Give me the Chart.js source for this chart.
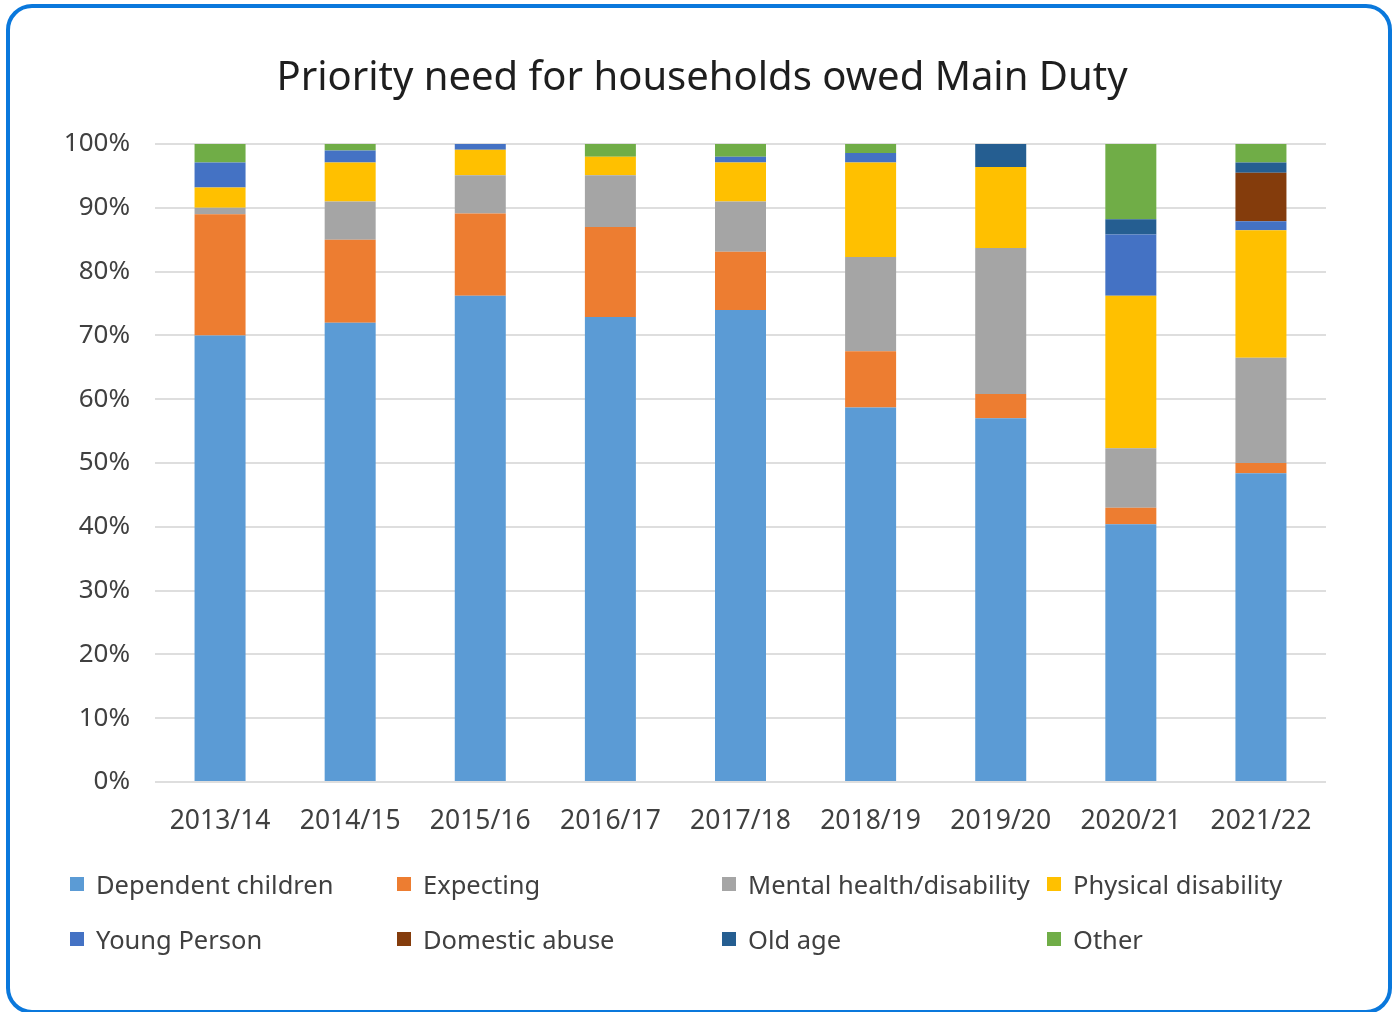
<!DOCTYPE html>
<html>
<head>
<meta charset="utf-8">
<title>Priority need for households owed Main Duty</title>
<script src="https://cdn.jsdelivr.net/npm/chart.js@4.4.1/dist/chart.umd.min.js"></script>
<style>
  html, body { margin: 0; padding: 0; background: #fff; }
  body { width: 1394px; height: 1012px; position: relative; overflow: hidden; font-family: "Noto Sans", sans-serif; }
  .card {
    position: absolute; left: 6px; top: 4px; width: 1386px; height: 1010px;
    box-sizing: border-box; border: 4px solid #0a78dc; border-radius: 26px; background: #fff;
  }
  #chart { position: absolute; left: 0; top: 0; }
  .legend {
    position: absolute; left: 70px; top: 865px;
    display: grid; grid-template-columns: 327px 325px 325px 300px; grid-auto-rows: 55px;
    font-size: 25.5px; color: #404040;
  }
  .legend .item { display: flex; align-items: center; height: 38px; white-space: nowrap; }
  .legend .box { width: 14px; height: 14px; margin-right: 12px; flex: none; }
</style>
</head>
<body>
<div class="card"></div>
<canvas id="chart" width="1394" height="1012"></canvas>
<div class="legend" id="legend"></div>
<script>
// financial years on the x axis
const years = ['2013/14', '2014/15', '2015/16', '2016/17', '2017/18', '2018/19', '2019/20', '2020/21', '2021/22'];

// share of households (%) by priority need, bottom of stack first
const dependentChildren = [70.0, 72.0, 76.2, 72.9, 74.0, 58.7, 57.0, 40.4, 48.4];
const expecting         = [19.0, 13.0, 12.9, 14.1,  9.1,  8.8,  3.8,  2.6,  1.6];
const mentalHealth      = [ 1.0,  6.0,  6.0,  8.1,  7.9, 14.8, 22.9,  9.3, 16.5];
const physicalDisab     = [ 3.2,  6.1,  4.0,  2.9,  6.1, 14.8, 12.7, 23.9, 20.0];
const youngPerson       = [ 3.9,  1.9,  0.9,  0.0,  0.9,  1.5,  0.0,  9.6,  1.4];
const domesticAbuse     = [ 0.0,  0.0,  0.0,  0.0,  0.0,  0.0,  0.0,  0.0,  7.6];
const oldAge            = [ 0.0,  0.0,  0.0,  0.0,  0.0,  0.0,  3.6,  2.4,  1.6];
const other             = [ 2.9,  1.0,  0.0,  2.0,  2.0,  1.4,  0.0, 11.8,  2.9];

const yTicks = [0, 10, 20, 30, 40, 50, 60, 70, 80, 90, 100];

const series = [
  { label: 'Dependent children',      data: dependentChildren, color: '#5b9bd5' },
  { label: 'Expecting',               data: expecting,         color: '#ed7d31' },
  { label: 'Mental health/disability', data: mentalHealth,     color: '#a5a5a5' },
  { label: 'Physical disability',     data: physicalDisab,     color: '#ffc000' },
  { label: 'Young Person',            data: youngPerson,       color: '#4472c4' },
  { label: 'Domestic abuse',          data: domesticAbuse,     color: '#843c0c' },
  { label: 'Old age',                 data: oldAge,            color: '#255e91' },
  { label: 'Other',                   data: other,             color: '#70ad47' }
];

const textColor = '#404040';
const font = '"Noto Sans", sans-serif';

const chart = new Chart(document.getElementById('chart'), {
  type: 'bar',
  data: {
    labels: years,
    datasets: series.map(s => ({
      label: s.label,
      data: s.data,
      backgroundColor: s.color,
      borderWidth: 0,
      barPercentage: 0.392,
      categoryPercentage: 1
    }))
  },
  options: {
    responsive: false,
    animation: false,
    layout: { padding: { left: 10, right: 0, top: 0, bottom: 160 } },
    plugins: {
      legend: { display: false },
      tooltip: { enabled: false },
      title: {
        display: true,
        text: 'Priority need for households owed Main Duty',
        color: '#1e1e1e',
        font: { family: font, size: 40, weight: 'normal' },
        padding: { top: 55, bottom: 41 }
      }
    },
    scales: {
      x: {
        stacked: true,
        grid: { display: false },
        border: { display: false },
        ticks: { color: textColor, font: { family: font, size: 26.5 }, padding: 16, maxRotation: 0 },
        afterFit: s => { s.height = 70; }
      },
      y: {
        stacked: true,
        min: 0,
        max: 100,
        afterBuildTicks: s => { s.ticks = yTicks.map(v => ({ value: v })); },
        grid: { color: '#dedede', lineWidth: 2, drawTicks: false },
        border: { display: false },
        ticks: { color: textColor, font: { family: font, size: 26 }, padding: 25, callback: v => v + '%' },
        afterFit: s => { s.width = 145; }
      },
      // empty spacer on the right so the title centres over the whole card
      spacer: {
        type: 'linear',
        position: 'right',
        grid: { display: false },
        border: { display: false },
        ticks: { display: false },
        afterFit: s => { s.width = 68; }
      }
    }
  }
});

// legend laid out in fixed columns, four per row
const legendEl = document.getElementById('legend');
chart.data.datasets.forEach(ds => {
  const item = document.createElement('div');
  item.className = 'item';
  const box = document.createElement('span');
  box.className = 'box';
  box.style.background = ds.backgroundColor;
  const txt = document.createElement('span');
  txt.textContent = ds.label;
  item.appendChild(box);
  item.appendChild(txt);
  legendEl.appendChild(item);
});
</script>
</body>
</html>
